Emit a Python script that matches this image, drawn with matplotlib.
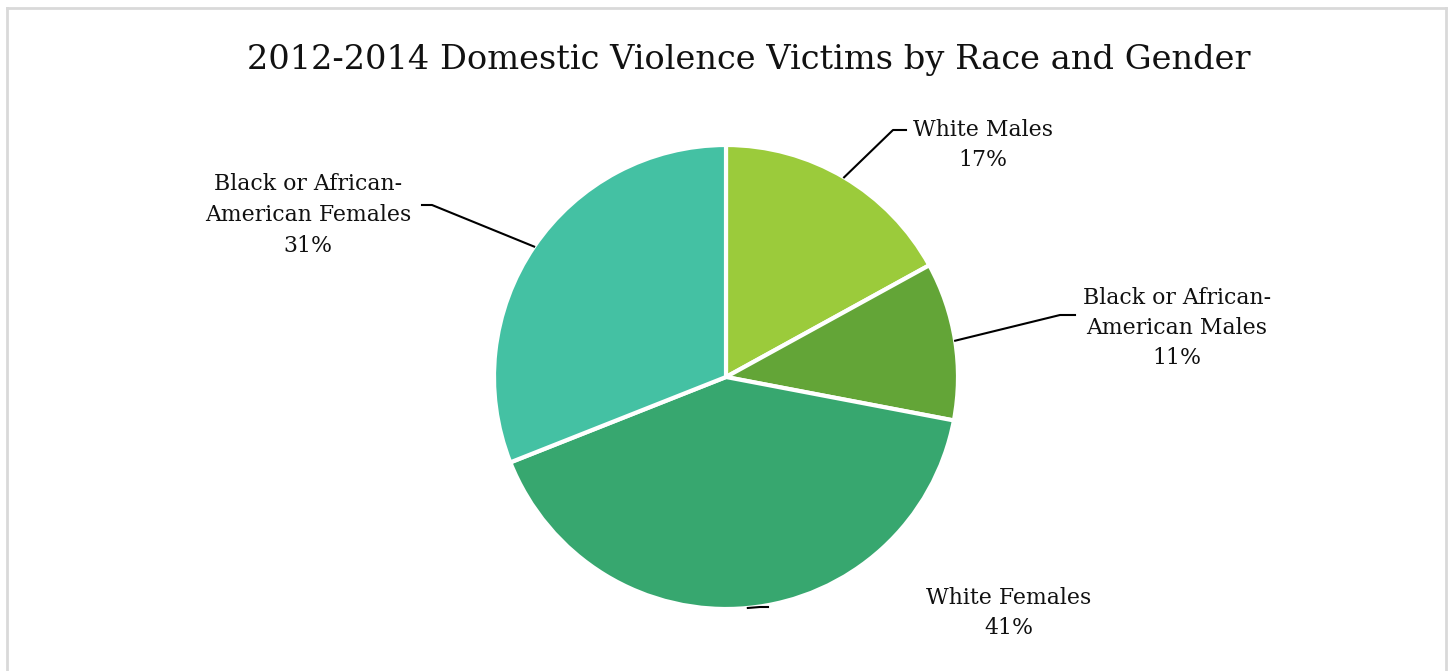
import numpy as np
import matplotlib.pyplot as plt
from matplotlib.lines import Line2D

title = '2012-2014 Domestic Violence Victims by Race and Gender'
labels = ['White Males', 'Black or African-\nAmerican Males', 'White Females',
          'Black or African-\nAmerican Females']
shares = [17, 11, 41, 31]
colors = ['#9bcb3b', '#63a537', '#37a76f', '#44c1a3']

plt.rcParams['font.family'] = ['DejaVu Serif']

W, H = 1450, 671
fig = plt.figure(figsize=(W / 100, H / 100), dpi=100)
ax = fig.add_axes([0, 0, 1, 1])

cx, cy, r = 726, H - 377, 232
wedges, _ = ax.pie(shares, center=(cx, cy), radius=r, startangle=90,
                   counterclock=False, colors=colors, frame=True,
                   wedgeprops=dict(edgecolor='white', linewidth=3))
ax.set_xlim(0, W)
ax.set_ylim(0, H)
ax.set_aspect('equal')
ax.axis('off')

# label text centre, elbow point, end of short horizontal
label_pos = [(983, H - 145), (1177, H - 328), (1009, H - 613), (308, H - 215)]
elbows = [((893, H - 130), (906, H - 130)),
          ((1060, H - 315), (1075, H - 315)),
          ((760, H - 607), (768, H - 607)),
          ((432, H - 205), (422, H - 205))]

for w, lab, s, (tx, ty), (e1, e2) in zip(wedges, labels, shares, label_pos, elbows):
    mid = np.deg2rad((w.theta1 + w.theta2) / 2)
    ax0 = cx + r * np.cos(mid)
    ay0 = cy + r * np.sin(mid)
    ax.plot([ax0, e1[0], e2[0]], [ay0, e1[1], e2[1]], color='black', lw=1.5)
    ax.text(tx, ty, f'{lab}\n{s}%', ha='center', va='center', fontsize=15.8,
            linespacing=1.5, color='#111111')

fig.text(749 / W, 1 - 60 / H, title, ha='center', va='center', fontsize=24.2,
         color='#111111')

bc = '#d9d9d9'
fig.add_artist(Line2D([7 / W, 7 / W], [0, 1 - 8 / H], color=bc, lw=2))
fig.add_artist(Line2D([7 / W, 1446 / W], [1 - 8 / H, 1 - 8 / H], color=bc, lw=2))
fig.add_artist(Line2D([1446 / W, 1446 / W], [0, 1 - 8 / H], color=bc, lw=2))

fig.savefig('out.png', dpi=100)
